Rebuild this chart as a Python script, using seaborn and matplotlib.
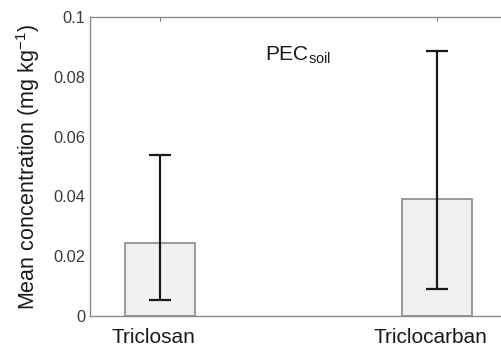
import pandas as pd
import matplotlib
matplotlib.use("Agg")
import matplotlib.pyplot as plt
import matplotlib.transforms as mtransforms
import seaborn as sns

compounds = ["Triclosan", "Triclocarban"]
mean_conc = [0.0244, 0.0391]
err_low = [0.0054, 0.0090]
err_high = [0.0538, 0.0886]

df = pd.DataFrame({"compound": compounds, "mean": mean_conc})

sns.set_style("white")
plt.rcParams["font.family"] = ["Liberation Sans", "DejaVu Sans"]

fig = plt.figure(figsize=(5.01, 3.49), dpi=100)
ax = fig.add_axes([0.1796, 0.0946, 0.8324, 0.8567])

sns.barplot(x="compound", y="mean", data=df, ax=ax, color="#f0f0f0",
            edgecolor="#8a8a8a", linewidth=1.2, width=0.2527, saturation=1)

# asymmetric error bars from the low/high values
yerr = [[m - lo for m, lo in zip(mean_conc, err_low)],
        [hi - m for m, hi in zip(mean_conc, err_high)]]
ax.errorbar(range(len(compounds)), mean_conc, yerr=yerr, fmt="none",
            ecolor="#1a1a1a", elinewidth=1.6, capsize=8, capthick=1.6)

ax.set_xlim(-0.2527, 1.2527)
ax.set_ylim(0, 0.1)
ax.set_yticks([0, 0.02, 0.04, 0.06, 0.08, 0.1])
ax.set_yticklabels(["0", "0.02", "0.04", "0.06", "0.08", "0.1"])
ax.set_xlabel("")
ax.set_ylabel("Mean concentration (mg kg$^{\\mathregular{-1}}$)", fontsize=15.5,
              color="#1a1a1a", labelpad=8)
ax.tick_params(axis="both", direction="in", length=3, color="#7a7a7a",
               labelsize=11.8, labelcolor="#3a3a3a", top=True, right=True)
ax.tick_params(axis="x", pad=9, labelsize=15, labelcolor="#1a1a1a")
# labels sit a little left of the bars in the original
shift = mtransforms.ScaledTranslation(-7 / 100, 0, fig.dpi_scale_trans)
for lbl in ax.get_xticklabels():
    lbl.set_transform(lbl.get_transform() + shift)
for s in ax.spines.values():
    s.set_color("#8a8a8a")
    s.set_linewidth(1.0)

ax.text(0.379, 0.0873, "PEC$_{\\mathregular{soil}}$", fontsize=15,
        color="#1a1a1a", va="center", ha="left")

fig.savefig("out.png", dpi=100)
